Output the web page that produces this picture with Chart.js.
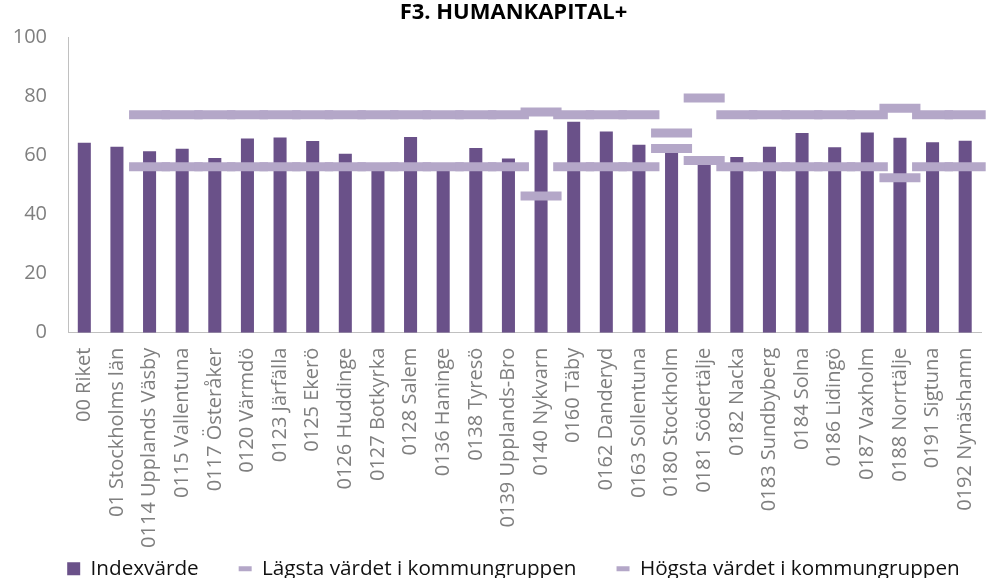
<!DOCTYPE html>
<html>
<head>
<meta charset="utf-8">
<script src="https://cdn.jsdelivr.net/npm/chart.js@4"></script>
<style>
  html, body { margin: 0; padding: 0; background: #ffffff; overflow: hidden; }
  #wrap { position: relative; width: 1011px; height: 589px; }
</style>
</head>
<body>
<div id="wrap"><canvas id="c"></canvas></div>
<script>
const categories = ['00 Riket','01 Stockholms län','0114 Upplands Väsby','0115 Vallentuna','0117 Österåker','0120 Värmdö','0123 Järfälla','0125 Ekerö','0126 Huddinge','0127 Botkyrka','0128 Salem','0136 Haninge','0138 Tyresö','0139 Upplands-Bro','0140 Nykvarn','0160 Täby','0162 Danderyd','0163 Sollentuna','0180 Stockholm','0181 Södertälje','0182 Nacka','0183 Sundbyberg','0184 Solna','0186 Lidingö','0187 Vaxholm','0188 Norrtälje','0191 Sigtuna','0192 Nynäshamn'];

const indexValues = [64.2, 62.9, 61.4, 62.2, 59.1, 65.7, 66.0, 64.8, 60.5, 56.1, 66.2, 56.5, 62.5, 58.9, 68.5, 71.3, 68.0, 63.6, 62.0, 58.2, 59.4, 62.9, 67.5, 62.7, 67.7, 65.9, 64.4, 64.9];

const lagstaValues = [null, null, 56.1, 56.1, 56.1, 56.1, 56.1, 56.1, 56.1, 56.1, 56.1, 56.1, 56.1, 56.1, 46.2, 56.1, 56.1, 56.1, 62.3, 58.2, 56.1, 56.1, 56.1, 56.1, 56.1, 52.4, 56.1, 56.1];

const hogstaValues = [null, null, 73.7, 73.7, 73.7, 73.7, 73.7, 73.7, 73.7, 73.7, 73.7, 73.7, 73.7, 73.7, 74.6, 73.7, 73.7, 73.7, 67.5, 79.4, 73.7, 73.7, 73.7, 73.7, 73.7, 75.9, 73.7, 73.7];

const yTicks = [0, 20, 40, 60, 80, 100];

const seriesNames = ['Indexvärde', 'Lägsta värdet i kommungruppen', 'Högsta värdet i kommungruppen'];
const titleText = 'F3. HUMANKAPITAL+';

const barColor = '#6A5189';
const markColor = '#B4A7C8';
const FONT = 'Open Sans';

const markerDataset = (label, data) => ({
  type: 'line',
  label: label,
  data: data,
  showLine: false,
  pointStyle: 'line',
  pointRadius: 20.5,
  pointHoverRadius: 20.5,
  pointBorderWidth: 9,
  pointHoverBorderWidth: 9,
  pointBorderColor: markColor,
  pointBackgroundColor: markColor,
  borderColor: markColor,
  backgroundColor: markColor,
  borderWidth: 9,
  order: 1,
  clip: false
});

const noLabelClip = (scale) => { scale._computeLabelArea = () => undefined; };

new Chart(document.getElementById('c'), {
  type: 'bar',
  data: {
    labels: categories,
    datasets: [
      {
        label: seriesNames[0],
        data: indexValues,
        backgroundColor: barColor,
        borderWidth: 0,
        categoryPercentage: 1,
        barPercentage: 0.4,
        order: 2
      },
      markerDataset(seriesNames[1], lagstaValues),
      markerDataset(seriesNames[2], hogstaValues)
    ]
  },
  options: {
    responsive: true,
    maintainAspectRatio: false,
    animation: false,
    events: [],
    layout: { padding: { left: 16, right: 0, top: 0, bottom: 0 } },
    plugins: {
      tooltip: { enabled: false },
      title: {
        display: true,
        text: titleText,
        color: '#000000',
        font: { family: FONT, size: 22, weight: 'bold' },
        padding: { top: 0, bottom: 10.6 }
      },
      legend: {
        display: true,
        position: 'bottom',
        labels: {
          font: { family: FONT, size: 20.7 },
          color: '#111111',
          usePointStyle: true,
          pointStyleWidth: 13,
          boxHeight: 13,
          padding: 40,
          sort: (a, b) => a.datasetIndex - b.datasetIndex,
          generateLabels: (chart) => {
            const items = Chart.defaults.plugins.legend.labels.generateLabels(chart);
            items.forEach(it => {
              if (it.datasetIndex === 0) {
                it.pointStyle = 'rect';
                it.fillStyle = barColor;
                it.strokeStyle = barColor;
                it.lineWidth = 0;
              } else {
                it.pointStyle = 'line';
                it.fillStyle = markColor;
                it.strokeStyle = markColor;
                it.lineWidth = 5;
              }
            });
            return items;
          }
        }
      }
    },
    scales: {
      x: {
        grid: { display: false, drawTicks: false },
        border: { display: true, color: '#c0c0c0', width: 1 },
        ticks: {
          autoSkip: false,
          minRotation: 90,
          maxRotation: 90,
          padding: 15,
          color: '#7f7f7f',
          font: { family: FONT, size: 20 }
        },
        afterFit: (scale) => {
          scale.height = 185.6;
          scale.paddingLeft = 0;
          scale.paddingRight = 0;
          noLabelClip(scale);
        }
      },
      y: {
        min: 0,
        max: 100,
        grid: { display: false, drawTicks: false },
        border: { display: true, color: '#c0c0c0', width: 1 },
        afterBuildTicks: (scale) => {
          scale.ticks = yTicks.map(v => ({ value: v }));
        },
        ticks: {
          padding: 21,
          color: '#7f7f7f',
          font: { family: FONT, size: 20 }
        },
        afterFit: (scale) => {
          scale.width = 52;
          noLabelClip(scale);
        }
      }
    }
  }
});
</script>
</body>
</html>
